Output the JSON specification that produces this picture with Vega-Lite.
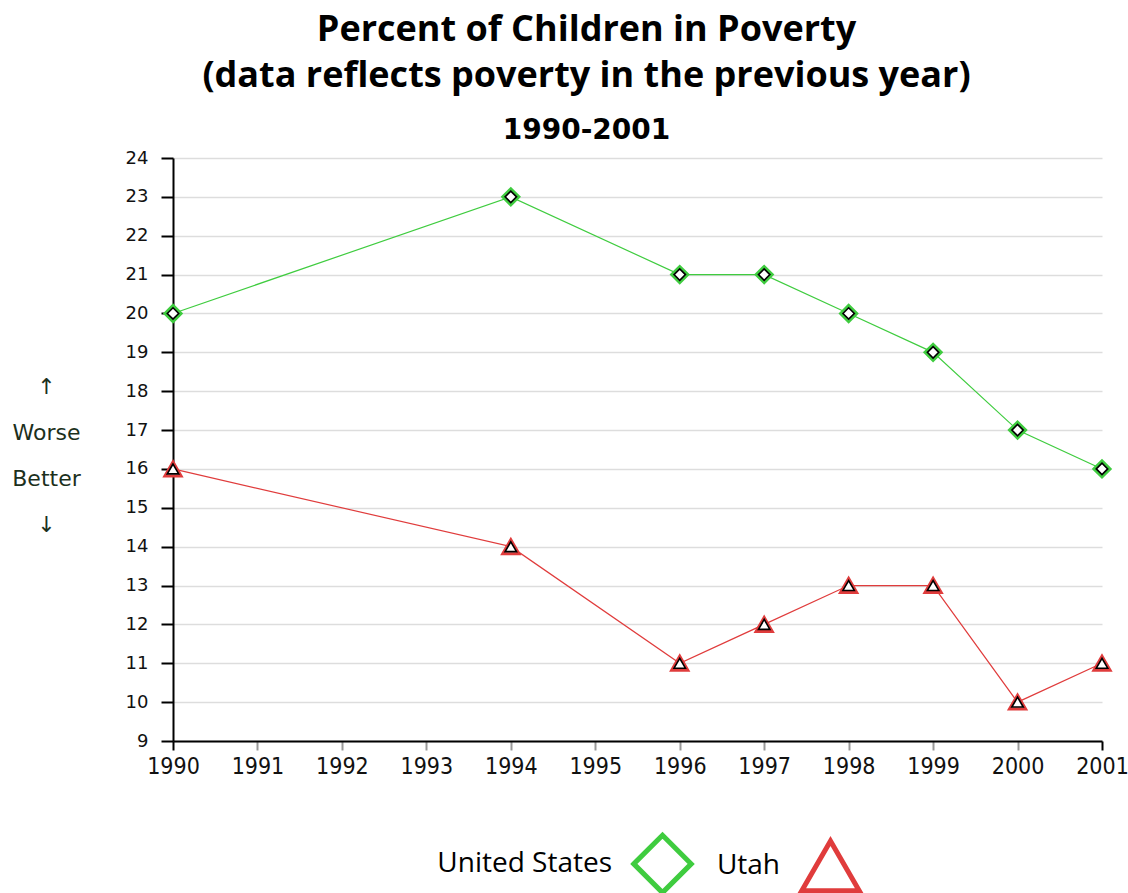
{
  "$schema": "https://vega.github.io/schema/vega-lite/v6.json",
  "width": 929,
  "height": 583,
  "padding": {"left": 11, "top": 12, "right": 0, "bottom": 5},
  "background": "white",
  "title": {
    "text": ["Percent of Children in Poverty", "(data reflects poverty in the previous year)"],
    "subtitle": "1990-2001",
    "anchor": "middle",
    "dx": -51,
    "font": "Open Sans",
    "fontSize": 36,
    "fontWeight": "bold",
    "lineHeight": 46,
    "color": "black",
    "subtitleFont": "DejaVu Sans",
    "subtitleFontSize": 28,
    "subtitleFontWeight": "bold",
    "subtitleColor": "black",
    "subtitlePadding": 22,
    "offset": 3
  },
  "data": {
    "values": [
      {"year": 1990, "pct": 20, "series": "United States"},
      {"year": 1994, "pct": 23, "series": "United States"},
      {"year": 1996, "pct": 21, "series": "United States"},
      {"year": 1997, "pct": 21, "series": "United States"},
      {"year": 1998, "pct": 20, "series": "United States"},
      {"year": 1999, "pct": 19, "series": "United States"},
      {"year": 2000, "pct": 17, "series": "United States"},
      {"year": 2001, "pct": 16, "series": "United States"},
      {"year": 1990, "pct": 16, "series": "Utah"},
      {"year": 1994, "pct": 14, "series": "Utah"},
      {"year": 1996, "pct": 11, "series": "Utah"},
      {"year": 1997, "pct": 12, "series": "Utah"},
      {"year": 1998, "pct": 13, "series": "Utah"},
      {"year": 1999, "pct": 13, "series": "Utah"},
      {"year": 2000, "pct": 10, "series": "Utah"},
      {"year": 2001, "pct": 11, "series": "Utah"}
    ]
  },
  "encoding": {
    "x": {
      "field": "year",
      "type": "quantitative",
      "scale": {"domain": [1990, 2001], "nice": false, "zero": false},
      "axis": {
        "title": null,
        "values": [1990, 1991, 1992, 1993, 1994, 1995, 1996, 1997, 1998, 1999, 2000, 2001],
        "format": "d",
        "grid": false,
        "domainColor": "black",
        "domainWidth": 2,
        "tickColor": {"condition": {"test": "datum.value == 1990 || datum.value == 2001", "value": "black"}, "value": "#999999"},
        "tickWidth": 2,
        "tickSize": 9,
        "labelFont": "'DejaVu Sans Condensed', 'Liberation Sans', sans-serif",
        "labelFontSize": 23,
        "labelColor": "#111111",
        "labelPadding": 5,
        "labelFlush": false
      }
    },
    "y": {
      "field": "pct",
      "type": "quantitative",
      "scale": {"domain": [9, 24], "nice": false, "zero": false},
      "axis": {
        "title": ["↑", "Worse", "Better", "↓"],
        "titleAngle": 0,
        "titleAlign": "center",
        "titleBaseline": "middle",
        "titleX": -127,
        "titleY": 228,
        "titleFont": "DejaVu Sans",
        "titleFontSize": 22,
        "titleFontWeight": "normal",
        "titleColor": "#1c301c",
        "titleLineHeight": 46,
        "values": [9, 10, 11, 12, 13, 14, 15, 16, 17, 18, 19, 20, 21, 22, 23, 24],
        "grid": true,
        "gridColor": "#dddddd",
        "gridWidth": 1.5,
        "domainColor": "black",
        "domainWidth": 2,
        "tickColor": "black",
        "tickWidth": 2,
        "tickSize": 12,
        "labelFont": "DejaVu Sans",
        "labelFontSize": 18,
        "labelColor": "#111111",
        "labelPadding": 13
      }
    }
  },
  "layer": [
    {
      "mark": {"type": "line", "strokeWidth": 1.2},
      "encoding": {
        "stroke": {
          "field": "series",
          "type": "nominal",
          "scale": {"domain": ["United States", "Utah"], "range": ["#3fcc3f", "#e03c3c"]}
        }
      }
    },
    {
      "mark": {"type": "point", "filled": false, "fill": "white", "fillOpacity": 1, "strokeWidth": 3, "size": 260, "opacity": 1},
      "encoding": {
        "shape": {
          "field": "series",
          "type": "nominal",
          "scale": {"domain": ["United States", "Utah"], "range": ["diamond", "triangle-up"]},
          "legend": {
            "orient": "none",
            "legendX": 458,
            "legendY": 674,
            "direction": "horizontal",
            "encode": {
              "symbols": {
                "update": {
                  "stroke": {"signal": "datum.value == 'Utah' ? '#ff0000' : '#00e000'"},
                  "fill": {"value": "white"}
                }
              }
            }
          }
        },
        "stroke": {
          "field": "series",
          "type": "nominal"
        }
      }
    },
    {
      "mark": {"type": "point", "filled": false, "fill": "white", "fillOpacity": 1, "stroke": "black", "strokeWidth": 1.6, "size": 130, "opacity": 1},
      "encoding": {
        "shape": {
          "field": "series",
          "type": "nominal"
        }
      }
    }
  ],
  "config": {
    "view": {"stroke": null},
    "legend": {
      "title": null,
      "direction": "horizontal",
      "symbolSize": 3300,
      "symbolStrokeWidth": 5,
      "symbolFillColor": "white",
      "labelAlign": "right",
      "labelOffset": -82,
      "labelFont": "Open Sans",
      "labelFontSize": 28,
      "labelColor": "black",
      "columnPadding": 14,
      "labelLimit": 400
    }
  }
}
